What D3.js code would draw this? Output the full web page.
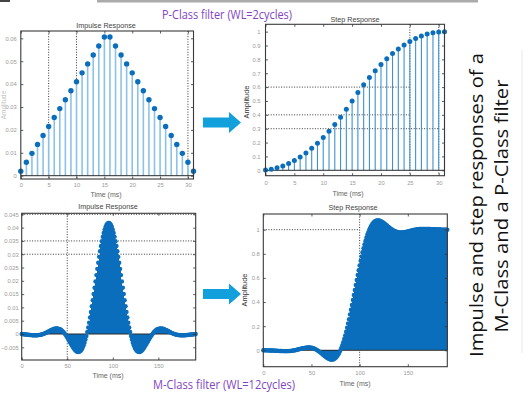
<!DOCTYPE html>
<html><head><meta charset="utf-8">
<script src="https://cdn.jsdelivr.net/npm/d3@7/dist/d3.min.js"></script>
<style>body{margin:0;background:#fff}svg{display:block}</style>
</head><body>
<svg id="fig" width="529" height="401"></svg>
<script>
// ---- P-Class filter (32 taps) ----
const pIndex = d3.range(32);
const pImpulse = [0.00195,0.00586,0.00977,0.01367,0.01758,0.02148,0.02539,0.0293,0.0332,0.03711,0.04102,0.04492,0.04883,0.05273,0.05664,0.06055,
  0.06055,0.05664,0.05273,0.04883,0.04492,0.04102,0.03711,0.0332,0.0293,0.02539,0.02148,0.01758,0.01367,0.00977,0.00586,0.00195];
const pStep = [0.00195,0.00781,0.01758,0.03125,0.04883,0.07031,0.0957,0.125,0.1582,0.19531,0.23633,0.28125,0.33008,0.38281,0.43945,0.5,
  0.56055,0.61719,0.66992,0.71875,0.76367,0.80469,0.8418,0.875,0.9043,0.92969,0.95117,0.96875,0.98242,0.99219,0.99805,1.0];

// ---- M-Class filter (192 taps) ----
const mIndex = d3.range(192);
const mImpulse = [
 -0.00002,-0.00005,-0.00009,-0.00013,-0.00017,-0.00020,
 -0.00024,-0.00028,-0.00032,-0.00035,-0.00039,-0.00042,-0.00044,-0.00046,-0.00048,-0.00048,
 -0.00048,-0.00046,-0.00043,-0.00039,-0.00033,-0.00026,-0.00017,-0.00006,0.00006,0.00020,
 0.00035,0.00051,0.00069,0.00087,0.00105,0.00123,0.00141,0.00157,0.00173,0.00186,
 0.00196,0.00204,0.00208,0.00208,0.00203,0.00193,0.00178,0.00158,0.00133,0.00101,
 0.00065,0.00023,-0.00024,-0.00075,-0.00129,-0.00187,-0.00246,-0.00307,-0.00367,-0.00425,
 -0.00481,-0.00532,-0.00578,-0.00616,-0.00646,-0.00666,-0.00675,-0.00670,-0.00652,-0.00619,
 -0.00571,-0.00505,-0.00423,-0.00324,-0.00207,-0.00073,0.00077,0.00243,0.00425,0.00619,
 0.00826,0.01044,0.01270,0.01502,0.01739,0.01977,0.02215,0.02450,0.02679,0.02900,
 0.03110,0.03307,0.03489,0.03653,0.03797,0.03920,0.04021,0.04097,0.04149,0.04174,
 0.04174,0.04149,0.04097,0.04021,0.03920,0.03797,0.03653,0.03489,0.03307,0.03110,
 0.02900,0.02679,0.02450,0.02215,0.01977,0.01739,0.01502,0.01270,0.01044,0.00826,
 0.00619,0.00425,0.00243,0.00077,-0.00073,-0.00207,-0.00324,-0.00423,-0.00505,-0.00571,
 -0.00619,-0.00652,-0.00670,-0.00675,-0.00666,-0.00646,-0.00616,-0.00578,-0.00532,-0.00481,
 -0.00425,-0.00367,-0.00307,-0.00246,-0.00187,-0.00129,-0.00075,-0.00024,0.00023,0.00065,
 0.00101,0.00133,0.00158,0.00178,0.00193,0.00203,0.00208,0.00208,0.00204,0.00196,
 0.00186,0.00173,0.00157,0.00141,0.00123,0.00105,0.00087,0.00069,0.00051,0.00035,
 0.00020,0.00006,-0.00006,-0.00017,-0.00026,-0.00033,-0.00039,-0.00043,-0.00046,-0.00048,
 -0.00048,-0.00048,-0.00046,-0.00044,-0.00042,-0.00039,-0.00035,-0.00032,-0.00028,-0.00024,
 -0.00020,-0.00017,-0.00013,-0.00009,-0.00005,-0.00002];
const mStep = [
 -0.00002,-0.00007,-0.00016,-0.00029,-0.00046,-0.00066,-0.00090,-0.00118,-0.00150,-0.00185,
 -0.00224,-0.00265,-0.00309,-0.00356,-0.00403,-0.00451,-0.00499,-0.00545,-0.00588,-0.00626,
 -0.00659,-0.00685,-0.00701,-0.00707,-0.00701,-0.00681,-0.00646,-0.00594,-0.00526,-0.00439,
 -0.00334,-0.00211,-0.00070,0.00087,0.00260,0.00445,0.00642,0.00845,0.01053,0.01260,
 0.01463,0.01656,0.01835,0.01993,0.02125,0.02227,0.02291,0.02314,0.02290,0.02215,
 0.02086,0.01899,0.01653,0.01346,0.00980,0.00555,0.00074,-0.00458,-0.01036,-0.01652,
 -0.02298,-0.02965,-0.03639,-0.04310,-0.04962,-0.05582,-0.06152,-0.06658,-0.07081,-0.07404,
 -0.07611,-0.07684,-0.07607,-0.07364,-0.06939,-0.06320,-0.05494,-0.04450,-0.03181,-0.01679,
 0.00060,0.02037,0.04252,0.06702,0.09382,0.12282,0.15392,0.18699,0.22188,0.25841,
 0.29638,0.33559,0.37580,0.41677,0.45825,0.5,0.54175,0.58323,0.62420,0.66441,
 0.70362,0.74159,0.77812,0.81301,0.84608,0.87718,0.90618,0.93298,0.95748,0.97963,
 0.99940,1.01679,1.03181,1.04450,1.05494,1.06320,1.06939,1.07364,1.07607,1.07684,
 1.07611,1.07404,1.07081,1.06658,1.06152,1.05582,1.04962,1.04310,1.03639,1.02965,
 1.02298,1.01652,1.01036,1.00458,0.99926,0.99445,0.99020,0.98654,0.98347,0.98101,
 0.97914,0.97785,0.97710,0.97686,0.97709,0.97773,0.97875,0.98007,0.98165,0.98344,
 0.98537,0.98740,0.98947,0.99155,0.99358,0.99555,0.99740,0.99913,1.00070,1.00211,
 1.00334,1.00439,1.00526,1.00594,1.00646,1.00681,1.00701,1.00707,1.00701,1.00685,
 1.00659,1.00626,1.00588,1.00545,1.00499,1.00451,1.00403,1.00356,1.00309,1.00265,
 1.00224,1.00185,1.00150,1.00118,1.00090,1.00066,1.00046,1.00029,1.00016,1.00007,
 1.00002,1.00000];

// ---- tick values ----
const pTicksX = [0,5,10,15,20,25,30];
const pImpulseTicksY = [0,0.01,0.02,0.03,0.04,0.05,0.06];
const pStepTicksY = [0,0.1,0.2,0.3,0.4,0.5,0.6,0.7,0.8,0.9,1];
const mTicksX = [0,50,100,150];
const mImpulseTicksY = [-0.005,0,0.005,0.01,0.015,0.02,0.025,0.03,0.035,0.04,0.045];
const mStepTicksY = [0,0.2,0.4,0.6,0.8,1];

// ---- text ----
const topCaption = "P-Class filter (WL=2cycles)";
const bottomCaption = "M-Class filter (WL=12cycles)";
const sideLines = ["Impulse and step responses of a", "M-Class and a P-Class filter"];

const svg = d3.select("#fig");
const MARK = "#0b6ebd";
const AXF = "'Liberation Sans', Arial, sans-serif";

function panel(o) {
  const g = svg.append("g");
  const x = d3.scaleLinear().domain(o.xDomain).range([o.left, o.right]);
  const y = d3.scaleLinear().domain(o.yDomain).range([o.bottom, o.top]);

  // dotted guide lines
  (o.hGuides || []).forEach(h => {
    g.append("line").attr("x1", x(h.from)).attr("x2", x(h.to))
      .attr("y1", y(h.v)).attr("y2", y(h.v))
      .attr("stroke", "#222").attr("stroke-width", 0.9).attr("stroke-dasharray", "1,1.6");
  });
  (o.vGuides || []).forEach(v => {
    g.append("line").attr("x1", x(v)).attr("x2", x(v))
      .attr("y1", o.top).attr("y2", o.bottom)
      .attr("stroke", "#222").attr("stroke-width", 0.9).attr("stroke-dasharray", "1,1.6");
  });

  // stems
  g.append("g").attr("shape-rendering", o.crisp ? "crispEdges" : "auto")
    .selectAll("line").data(o.values).join("line")
    .attr("x1", (d, i) => x(o.index[i])).attr("x2", (d, i) => x(o.index[i]))
    .attr("y1", y(0)).attr("y2", d => y(d))
    .attr("stroke", o.stemColor).attr("stroke-width", o.stemWidth);

  // baseline
  g.append("line").attr("x1", o.left).attr("x2", o.right)
    .attr("y1", y(0)).attr("y2", y(0)).attr("stroke", "#2a2a2a").attr("stroke-width", 1);

  // markers
  g.append("g").selectAll("circle").data(o.values).join("circle")
    .attr("cx", (d, i) => x(o.index[i])).attr("cy", d => y(d))
    .attr("r", o.r).attr("fill", MARK);

  // axes with inward ticks on all four sides
  const fmt = d => d3.format("~g")(d);
  const ax = [
    g.append("g").attr("transform", `translate(0,${o.bottom})`)
      .call(d3.axisBottom(x).tickValues(o.xTicks).tickSize(-2.5).tickPadding(o.xPad).tickFormat(fmt)),
    g.append("g").attr("transform", `translate(${o.left},0)`)
      .call(d3.axisLeft(y).tickValues(o.yTicks).tickSize(-2.5).tickPadding(o.yPad).tickFormat(fmt)),
    g.append("g").attr("transform", `translate(0,${o.top})`)
      .call(d3.axisTop(x).tickValues(o.xTicks).tickSize(-2.5).tickFormat("")),
    g.append("g").attr("transform", `translate(${o.right},0)`)
      .call(d3.axisRight(y).tickValues(o.yTicks).tickSize(-2.5).tickFormat(""))
  ];
  ax.forEach(a => {
    a.select(".domain").remove();
    a.selectAll(".tick line").attr("stroke", "#333").attr("stroke-width", 0.8);
    a.selectAll("text").attr("font-family", AXF).attr("font-size", 5.8).attr("fill", "#9a9a9a");
  });

  // frame
  g.append("rect").attr("x", o.left).attr("y", o.top)
    .attr("width", o.right - o.left).attr("height", o.bottom - o.top)
    .attr("fill", "none").attr("stroke", "#3a3a3a").attr("stroke-width", 1.1);

  // labels
  g.append("text").attr("x", o.title[0]).attr("y", o.title[1]).attr("text-anchor", "middle")
    .attr("font-family", AXF).attr("font-size", 7.2).attr("fill", "#444").text(o.titleText);
  g.append("text").attr("x", o.xlab[0]).attr("y", o.xlab[1]).attr("text-anchor", "middle")
    .attr("font-family", AXF).attr("font-size", 7).attr("fill", "#666").text("Time (ms)");
  if (o.ylab) {
    g.append("text").attr("transform", `translate(${o.ylab[0]},${o.ylab[1]}) rotate(-90)`)
      .attr("text-anchor", "middle").attr("font-family", AXF).attr("font-size", o.ylab[3] || 7.4)
      .attr("fill", o.ylab[2]).text("Amplitude");
  }
}

// P-Class impulse response
panel({
  index: pIndex, values: pImpulse, xDomain: [0, 31], yDomain: [-0.00144, 0.0632],
  left: 20.8, right: 193.5, top: 31, bottom: 179,
  xTicks: pTicksX, yTicks: pImpulseTicksY, xPad: 4, yPad: 4,
  stemColor: "#8cc2ea", stemWidth: 1.6, r: 2.7,
  vGuides: [5, 10, 30],
  title: [106, 28], titleText: "Impulse Response", xlab: [106, 197], ylab: [6, 105, "#c0c0c0", 6.4]
});

// P-Class step response
panel({
  index: pIndex, values: pStep, xDomain: [0, 31], yDomain: [-0.039, 1.053],
  left: 265.5, right: 444.5, top: 24.3, bottom: 175.7,
  xTicks: pTicksX, yTicks: pStepTicksY, xPad: 5, yPad: 5,
  stemColor: "#3f92d2", stemWidth: 1.1, r: 2.5,
  hGuides: [{v: 0.6, from: 0, to: 25}, {v: 0.4, from: 0, to: 25}, {v: 0.3, from: 0, to: 30}],
  vGuides: [25, 30],
  title: [355, 21.5], titleText: "Step Response", xlab: [348, 196], ylab: [249, 102, "#333"]
});

// M-Class impulse response
panel({
  index: mIndex, values: mImpulse, xDomain: [0, 191], yDomain: [-0.00977, 0.04538],
  left: 21.7, right: 195.7, top: 213.3, bottom: 360,
  xTicks: mTicksX, yTicks: mImpulseTicksY, xPad: 4, yPad: 3,
  stemColor: MARK, stemWidth: 1, r: 2.2, crisp: true,
  hGuides: [{v: 0.045, from: 0, to: 191}, {v: 0.035, from: 0, to: 191}, {v: 0.03, from: 0, to: 191}],
  vGuides: [50],
  title: [108, 208.5], titleText: "Impulse Response", xlab: [108, 378], ylab: null
});

// M-Class step response
panel({
  index: mIndex, values: mStep, xDomain: [0, 191], yDomain: [-0.136, 1.13],
  left: 263.3, right: 447.3, top: 214, bottom: 366.7,
  xTicks: mTicksX, yTicks: mStepTicksY, xPad: 4, yPad: 3.5,
  stemColor: MARK, stemWidth: 1, r: 2.2, crisp: true,
  hGuides: [{v: 1, from: 0, to: 100}],
  vGuides: [100],
  title: [353, 209.5], titleText: "Step Response", xlab: [355, 386], ylab: [247, 290, "#333"]
});

// block arrows between the panels
function arrow(cx, cy) {
  const pts = [[cx - 19, cy - 5], [cx + 7, cy - 5], [cx + 7, cy - 10.5], [cx + 19, cy],
               [cx + 7, cy + 10.5], [cx + 7, cy + 5], [cx - 19, cy + 5]];
  svg.append("polygon").attr("points", pts.map(p => p.join(",")).join(" ")).attr("fill", "#12a0dc");
}
arrow(222, 122.5);
arrow(222, 294);

// captions
svg.append("text").attr("x", 227).attr("y", 19).attr("text-anchor", "middle")
  .attr("font-family", "'Open Sans', 'Noto Sans', sans-serif").attr("font-size", 12.5)
  .attr("fill", "#8044c4").attr("textLength", 130).attr("lengthAdjust", "spacingAndGlyphs").text(topCaption);
svg.append("text").attr("x", 224).attr("y", 389).attr("text-anchor", "middle")
  .attr("font-family", "'Open Sans', 'Noto Sans', sans-serif").attr("font-size", 12.5)
  .attr("fill", "#8044c4").attr("textLength", 142).attr("lengthAdjust", "spacingAndGlyphs").text(bottomCaption);

// side note, written bottom to top
const side = svg.append("g").attr("transform", "translate(0,205) rotate(-90)");
side.append("text").attr("x", 0).attr("y", 482.5).attr("text-anchor", "middle")
  .attr("font-family", "'Open Sans', 'Noto Sans', sans-serif").attr("font-size", 18.5).attr("fill", "#111")
  .attr("textLength", 304).attr("lengthAdjust", "spacingAndGlyphs").text(sideLines[0]);
side.append("text").attr("x", -1).attr("y", 507.5).attr("text-anchor", "middle")
  .attr("font-family", "'Open Sans', 'Noto Sans', sans-serif").attr("font-size", 18.5).attr("fill", "#111")
  .attr("textLength", 253).attr("lengthAdjust", "spacingAndGlyphs").text(sideLines[1]);

// page edge details
svg.append("rect").attr("x", 0).attr("y", 0).attr("width", 10).attr("height", 2).attr("fill", "#444");
svg.append("rect").attr("x", 97).attr("y", 0).attr("width", 381).attr("height", 2.5).attr("fill", "#888").attr("opacity", 0.7);
svg.append("line").attr("x1", 522).attr("x2", 522).attr("y1", 50).attr("y2", 353).attr("stroke", "#e8e8e8");
</script>
</body></html>
